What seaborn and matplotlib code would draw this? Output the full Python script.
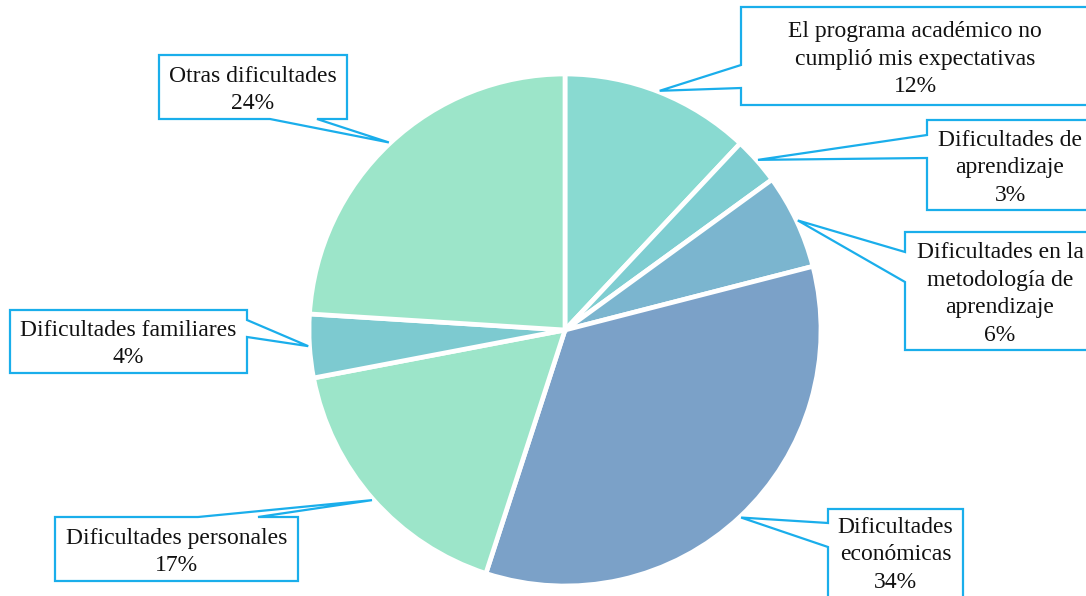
import matplotlib
matplotlib.use("Agg")
import matplotlib.pyplot as plt
from matplotlib.patches import Polygon
import numpy as np
import seaborn as sns

# Reasons for dropping out (percent of responses)
categories = [
    "El programa académico no\ncumplió mis expectativas",
    "Dificultades de\naprendizaje",
    "Dificultades en la\nmetodología de\naprendizaje",
    "Dificultades\neconómicas",
    "Dificultades personales",
    "Dificultades familiares",
    "Otras dificultades",
]
values = [12, 3, 6, 34, 17, 4, 24]
colors = ["#89DAD1", "#7ECDD1", "#7BB5CF", "#7BA1C8", "#9CE5C9", "#7DCAD0", "#9CE5C9"]

sns.set_theme(style="white")
plt.rcParams["font.family"] = ["Liberation Serif", "DejaVu Serif"]

W, H = 1086, 596
fig = plt.figure(figsize=(W / 100, H / 100), dpi=100)
ax = fig.add_axes([0, 0, 1, 1])
ax.set_xlim(0, W)
ax.set_ylim(0, H)
ax.set_aspect("equal")
ax.axis("off")


def px(x, y):
    """Canvas position (y measured from the top) to axes data coordinates."""
    return (x, H - y)


cx, cy = px(565, 330)
R = 256
wedges, _ = ax.pie(
    values, colors=colors, startangle=90, counterclock=False,
    center=(cx, cy), radius=R,
    wedgeprops=dict(edgecolor="white", linewidth=3.4),
)
ax.set_xlim(0, W)
ax.set_ylim(0, H)

# Callout boxes: (left, top, right, bottom), side of the pointer,
# pointer base span, and the text's vertical centre
callouts = [
    ((741, 7, 1089, 105), "left", (65, 88), 59),
    ((927, 120, 1093, 210), "left", (135, 158), 168),
    ((905, 232, 1095, 350), "left", (252, 282), 294),
    ((828, 509, 963, 605), "left", (523, 547), 555),
    ((55, 517, 298, 581), "top", (198, 258), 552),
    ((10, 310, 247, 373), "right", (320, 337), 344),
    ((159, 55, 347, 119), "bottom", (270, 317), 90),
]

edge_col = "#1AAEEB"
for w, cat, val, (box, side, (b1, b2), tyc) in zip(wedges, categories, values, callouts):
    mid = np.deg2rad((w.theta1 + w.theta2) / 2)
    tip_d = (cx + R * 1.005 * np.cos(mid), cy + R * 1.005 * np.sin(mid))
    tip = (tip_d[0], H - tip_d[1])
    L, T, Rr, B = box
    pts = [(L, T)]
    if side == "top":
        pts += [(b1, T), tip, (b2, T)]
    pts += [(Rr, T)]
    if side == "right":
        pts += [(Rr, b1), tip, (Rr, b2)]
    pts += [(Rr, B)]
    if side == "bottom":
        pts += [(b2, B), tip, (b1, B)]
    pts += [(L, B)]
    if side == "left":
        pts += [(L, b2), tip, (L, b1)]
    poly = Polygon([px(x, y) for x, y in pts], closed=True,
                   facecolor="white", edgecolor=edge_col, linewidth=1.6,
                   zorder=3, clip_on=False)
    ax.add_patch(poly)
    tx, ty = px((L + Rr) / 2, tyc)
    ax.text(tx, ty, f"{cat}\n{val}%", ha="center", va="center",
            fontsize=17, color="#111111", linespacing=1.42, zorder=4)

fig.savefig("out.png", dpi=100, facecolor="white")
